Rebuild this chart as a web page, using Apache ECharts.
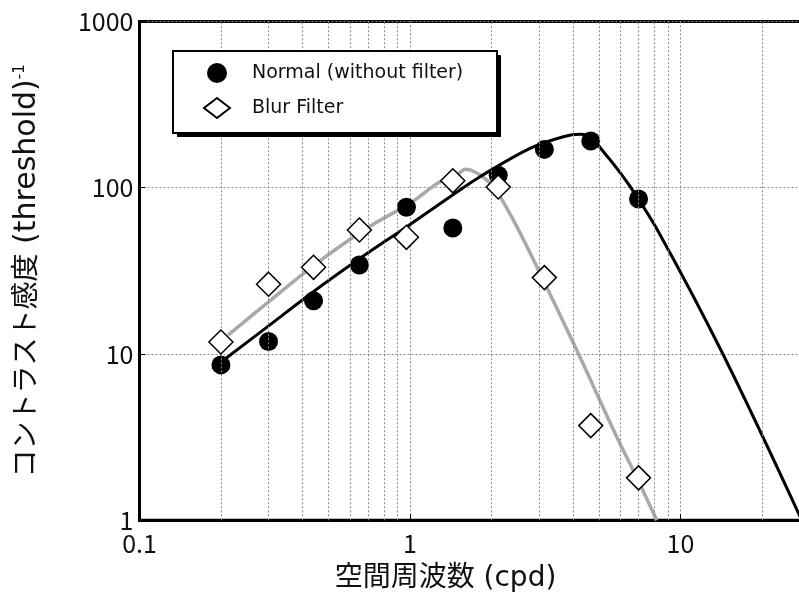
<!DOCTYPE html>
<html>
<head>
<meta charset="utf-8">
<script src="https://cdn.jsdelivr.net/npm/echarts@6/dist/echarts.min.js"></script>
<style>
  html, body { margin: 0; padding: 0; background: #fff; }
  #chart { width: 799px; height: 598px; }
</style>
</head>
<body>
<div id="chart"></div>
<script>
// Measured contrast sensitivity at each spatial frequency (cpd)
const freq = [0.2, 0.3, 0.44, 0.65, 0.97, 1.44, 2.12, 3.14, 4.66, 7.0];
const normalSens = [8.6, 11.9, 20.9, 34.3, 76.2, 57.3, 119, 170, 191, 85.5];
const blurSens = [11.8, 26.3, 33.2, 55.7, 50.3, 110, 101, 28.8, 3.71, 1.80];

// Fitted sensitivity curves
const normalFitFreq = [0.207, 0.296, 0.438, 0.654, 0.973, 1.407, 1.816, 2.78, 3.69, 4.26, 4.63, 5.19, 5.82, 6.52, 8.29, 14.35, 28.1];
const normalFitSens = [9.33, 14.5, 23.6, 37.6, 58.3, 88.3, 116.5, 172.5, 202.6, 209.5, 202.6, 164.6, 130.8, 101.4, 54.4, 10, 1];
const blurFitFreq = [0.2125, 0.296, 0.438, 0.692, 1.0, 1.292, 1.447, 1.532, 1.60, 1.668, 1.816, 1.978, 2.154, 2.483, 2.944, 4.20, 5.73, 6.90, 8.17];
const blurFitSens = [13.0, 20.2, 33.8, 57.0, 80.6, 108.7, 113.9, 123.5, 129.0, 128.0, 119.2, 106.3, 88.3, 58.3, 33.5, 10, 3.34, 1.80, 1];

// Axis ranges and minor grid positions
const xMin = 0.1, xMax = 30;
const yMin = 1, yMax = 1000;
const xMinorLines = [0.2, 0.3, 0.4, 0.5, 0.6, 0.7, 0.8, 0.9, 2, 3, 4, 5, 6, 7, 8, 9, 20];

const seriesNames = ['Normal (without filter)', 'Blur Filter'];

const zip = (xs, ys) => xs.map((x, i) => [x, ys[i]]);
const FONT = '"Noto Sans CJK JP", "Noto Sans", sans-serif';
const LATIN = '"DejaVu Sans", "Noto Sans CJK JP", sans-serif';
const dotted = { type: [2, 2], color: '#8a8a8a', width: 1 };
const isDecade = v => Math.abs(Math.log10(v) - Math.round(Math.log10(v))) < 1e-6;

const chart = echarts.init(document.getElementById('chart'), null, { renderer: 'canvas' });
chart.setOption({
  animation: false,
  backgroundColor: '#fff',
  textStyle: { fontFamily: FONT },
  grid: {
    left: 139.5, top: 21.4, width: 670, height: 498.9,
    outerBoundsMode: 'none', containLabel: false,
    show: true, borderColor: '#000', borderWidth: 3, backgroundColor: '#fff'
  },
  // legend frame with hard drop shadow
  graphic: [
    { type: 'rect', z: 10, silent: true,
      shape: { x: 177, y: 55, width: 324, height: 82 },
      style: { fill: '#000' } },
    { type: 'rect', z: 11, silent: true,
      shape: { x: 173, y: 51, width: 324, height: 82 },
      style: { fill: '#fff', stroke: '#000', lineWidth: 2 } }
  ],
  legend: {
    z: 12,
    orient: 'vertical',
    left: 173, top: 51,
    padding: [12, 10, 12, 30],
    itemGap: 14,
    itemWidth: 26, itemHeight: 20,
    symbolKeepAspect: true,
    textStyle: { fontFamily: LATIN, fontSize: 19, color: '#111', padding: [0, 0, 0, 17] },
    data: seriesNames
  },
  xAxis: {
    type: 'log', logBase: 10, min: xMin, max: xMax,
    name: '空間周波数 (cpd)', nameLocation: 'middle', nameGap: 44,
    nameTextStyle: { fontFamily: LATIN, fontSize: 28, color: '#111', padding: [0, 58, 0, 0] },
    axisLine: { show: true, lineStyle: { color: '#000', width: 3 } },
    axisTick: { show: true, inside: true, length: 6, lineStyle: { color: '#000', width: 1 } },
    axisLabel: {
      fontFamily: FONT, fontSize: 25, color: '#111', margin: 11,
      formatter: v => isDecade(v) ? String(v) : ''
    },
    splitLine: { show: true, lineStyle: dotted }
  },
  yAxis: {
    type: 'log', logBase: 10, min: yMin, max: yMax,
    name: '{t|コントラスト感度}{l| (threshold)}{s|-1}',
    nameLocation: 'middle', nameRotate: 90, nameGap: 97,
    nameTextStyle: {
      color: '#111',
      rich: {
        t: { fontFamily: LATIN, fontSize: 28, color: '#111' },
        l: { fontFamily: LATIN, fontSize: 30, color: '#111' },
        s: { fontFamily: LATIN, fontSize: 15, color: '#111', verticalAlign: 'top' }
      }
    },
    axisLine: { show: true, lineStyle: { color: '#000', width: 3 } },
    axisTick: { show: true, inside: true, length: 6, lineStyle: { color: '#000', width: 1 } },
    axisLabel: { fontFamily: FONT, fontSize: 25, color: '#111', margin: 6, formatter: v => String(v) },
    splitLine: { show: true, lineStyle: dotted }
  },
  series: [
    {
      // minor vertical grid lines
      name: 'minorGrid', type: 'line', data: [], silent: true, z: 1,
      markLine: {
        silent: true, symbol: ['none', 'none'], label: { show: false },
        lineStyle: dotted, animation: false,
        data: xMinorLines.map(v => ({ xAxis: v }))
      }
    },
    {
      name: 'blurFit', type: 'line', data: zip(blurFitFreq, blurFitSens),
      smooth: 0.35, showSymbol: false, symbol: 'none', z: 2,
      lineStyle: { color: '#a9a9a9', width: 3.5 }
    },
    {
      name: 'normalFit', type: 'line', data: zip(normalFitFreq, normalFitSens),
      smooth: 0.35, showSymbol: false, symbol: 'none', z: 3,
      lineStyle: { color: '#000', width: 3 }
    },
    {
      name: seriesNames[0], type: 'scatter', data: zip(freq, normalSens),
      symbol: 'circle', symbolSize: 19, z: 4,
      itemStyle: { color: '#000', opacity: 1 }
    },
    {
      name: seriesNames[1], type: 'scatter', data: zip(freq, blurSens),
      symbol: 'diamond', symbolSize: 24, z: 5,
      itemStyle: { color: '#fff', borderColor: '#000', borderWidth: 1.5, opacity: 1 }
    }
  ]
});
</script>
</body>
</html>
